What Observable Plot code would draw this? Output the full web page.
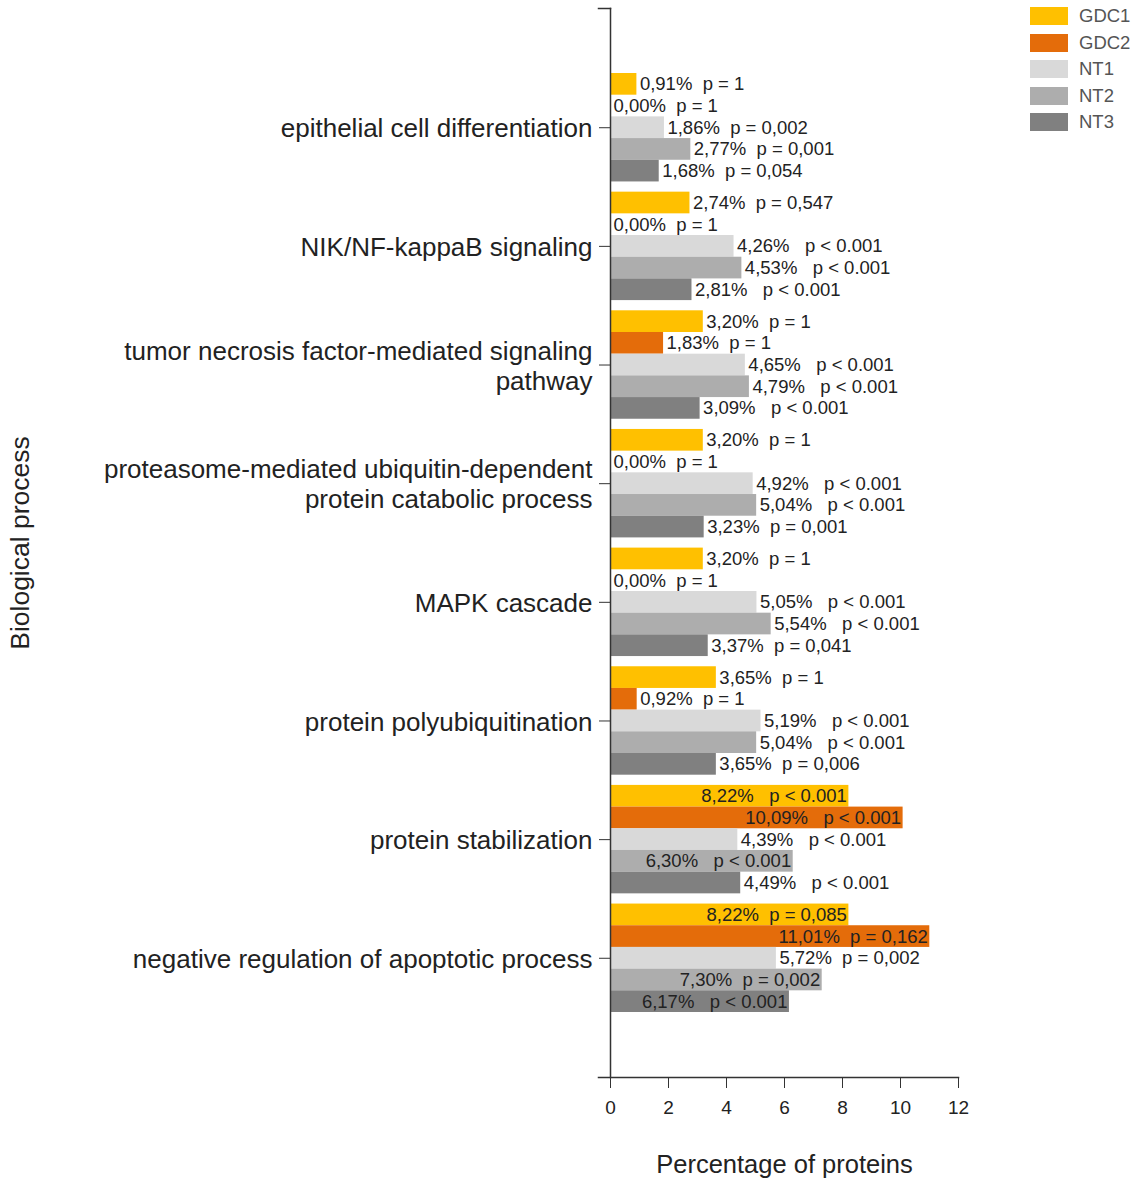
<!DOCTYPE html>
<html>
<head>
<meta charset="utf-8">
<script src="https://cdn.jsdelivr.net/npm/d3@7"></script>
<script src="https://cdn.jsdelivr.net/npm/@observablehq/plot@0.6"></script>
<style>
  html, body { margin: 0; padding: 0; background: #fff; }
  #wrap { position: relative; width: 1141px; height: 1180px; font-family: "Liberation Sans", Arial, sans-serif; }
  #chart { position: absolute; left: 0; top: 0; }
  #legend { position: absolute; left: 1030px; top: 3px; }
  .item { display: flex; align-items: center; height: 26.5px; }
  .sw { width: 38px; height: 18px; margin-right: 11px; }
  .lab { font-size: 18.5px; color: #555; }
</style>
</head>
<body>
<div id="wrap">
  <div id="chart"></div>
  <div id="legend"></div>
</div>
<script>
// ---- Data ----
const categories = [
  "epithelial cell differentiation",
  "NIK/NF-kappaB signaling",
  "tumor necrosis factor-mediated signaling pathway",
  "proteasome-mediated ubiquitin-dependent protein catabolic process",
  "MAPK cascade",
  "protein polyubiquitination",
  "protein stabilization",
  "negative regulation of apoptotic process"
];
const categoryLabels = [
  "epithelial cell differentiation",
  "NIK/NF-kappaB signaling",
  "tumor necrosis factor-mediated signaling\npathway",
  "proteasome-mediated ubiquitin-dependent\nprotein catabolic process",
  "MAPK cascade",
  "protein polyubiquitination",
  "protein stabilization",
  "negative regulation of apoptotic process"
];
const series = ["GDC1", "GDC2", "NT1", "NT2", "NT3"];
const colors = ["#FFC000", "#E46C0A", "#D9D9D9", "#ADADAD", "#808080"];

const GDC1 = [0.91, 2.74, 3.20, 3.20, 3.20, 3.65, 8.22, 8.22];
const GDC2 = [0.00, 0.00, 1.83, 0.00, 0.00, 0.92, 10.09, 11.01];
const NT1  = [1.86, 4.26, 4.65, 4.92, 5.05, 5.19, 4.39, 5.72];
const NT2  = [2.77, 4.53, 4.79, 5.04, 5.54, 5.04, 6.30, 7.30];
const NT3  = [1.68, 2.81, 3.09, 3.23, 3.37, 3.65, 4.49, 6.17];

const pGDC1 = ["p = 1", "p = 0,547", "p = 1", "p = 1", "p = 1", "p = 1", "p < 0.001", "p = 0,085"];
const pGDC2 = ["p = 1", "p = 1", "p = 1", "p = 1", "p = 1", "p = 1", "p < 0.001", "p = 0,162"];
const pNT1  = ["p = 0,002", "p < 0.001", "p < 0.001", "p < 0.001", "p < 0.001", "p < 0.001", "p < 0.001", "p = 0,002"];
const pNT2  = ["p = 0,001", "p < 0.001", "p < 0.001", "p < 0.001", "p < 0.001", "p < 0.001", "p < 0.001", "p = 0,002"];
const pNT3  = ["p = 0,054", "p < 0.001", "p < 0.001", "p = 0,001", "p = 0,041", "p = 0,006", "p < 0.001", "p < 0.001"];

const xTicks = [0, 2, 4, 6, 8, 10, 12];
const xTitle = "Percentage of proteins";
const yTitle = "Biological process";

// ---- Build table ----
const valuesBySeries = [GDC1, GDC2, NT1, NT2, NT3];
const pBySeries = [pGDC1, pGDC2, pNT1, pNT2, pNT3];
const data = [];
categories.forEach((c, i) => {
  series.forEach((s, j) => {
    data.push({cat: c, series: s, value: valuesBySeries[j][i], p: pBySeries[j][i]});
  });
});
const labelMap = new Map(categories.map((c, i) => [c, categoryLabels[i]]));
const fmt = d => {
  const pct = d.value.toFixed(2).replace(".", ",") + "%";
  const gap = d.p.startsWith("p <") ? "\u00a0\u00a0\u00a0" : "\u00a0\u00a0";
  return pct + gap + d.p;
};
const inside = d => d.value > 6;

const W = 1141, H = 1180;
const mL = 610, mR = 183, mT = 73, mB = 168;
const off = 65;              // axis offset from the bars (Prism style)
const plotW = W - mL - mR;
const axisColor = "#333";

const chart = Plot.plot({
  width: W,
  height: H,
  marginLeft: mL,
  marginRight: mR,
  marginTop: mT,
  marginBottom: mB,
  style: {fontFamily: "'Liberation Sans', Arial, sans-serif", color: "#222", background: "#fff"},
  x: {domain: [0, 12]},
  y: {domain: series, padding: 0, round: false, axis: null},
  fy: {domain: categories, paddingInner: 0.086, paddingOuter: 0, round: false},
  color: {domain: series, range: colors},
  marks: [
    Plot.barX(data, {fy: "cat", y: "series", x: "value", fill: "series"}),
    Plot.text(data.filter(d => !inside(d)), {
      fy: "cat", y: "series", x: "value", text: fmt,
      textAnchor: "start", dx: 3, fontSize: 18.5, fill: "#222"
    }),
    Plot.text(data.filter(inside), {
      fy: "cat", y: "series", x: "value", text: fmt,
      textAnchor: "end", dx: -2, fontSize: 18.5, fill: "#222"
    }),
    Plot.axisX({
      anchor: "bottom", ticks: xTicks, tickSize: 11, tickPadding: 12, fontSize: 19,
      dy: off, label: null, stroke: axisColor, color: "#222"
    }),
    Plot.axisFy({
      anchor: "left", tickSize: 11, tickPadding: 7, fontSize: 26, lineHeight: 1.15,
      tickFormat: c => labelMap.get(c), label: null,
      stroke: axisColor, color: "#222"
    }),
    Plot.text([xTitle], {
      facet: "super", frameAnchor: "bottom", lineAnchor: "bottom", dy: 160,
      fontSize: 25.5, fill: "#222"
    }),
    Plot.text([yTitle], {
      facet: "super", frameAnchor: "left", textAnchor: "middle", rotate: -90, lineAnchor: "top", dx: -600,
      fontSize: 26.5, fill: "#222"
    }),
    Plot.frame({anchor: "left", facet: "super", insetTop: -off, insetBottom: -off, stroke: axisColor, strokeWidth: 1.5}),
    Plot.frame({anchor: "bottom", facet: "super", insetBottom: -off, insetLeft: -12, stroke: axisColor, strokeWidth: 1.5}),
    Plot.frame({anchor: "top", facet: "super", insetTop: -off, insetLeft: -12, insetRight: plotW, stroke: axisColor, strokeWidth: 1.5})
  ]
});
document.getElementById("chart").appendChild(chart);

// ---- Legend ----
const legend = document.getElementById("legend");
series.forEach((s, i) => {
  const item = document.createElement("div");
  item.className = "item";
  const sw = document.createElement("div");
  sw.className = "sw";
  sw.style.background = colors[i];
  const lab = document.createElement("span");
  lab.className = "lab";
  lab.textContent = s;
  item.appendChild(sw);
  item.appendChild(lab);
  legend.appendChild(item);
});
</script>
</body>
</html>
